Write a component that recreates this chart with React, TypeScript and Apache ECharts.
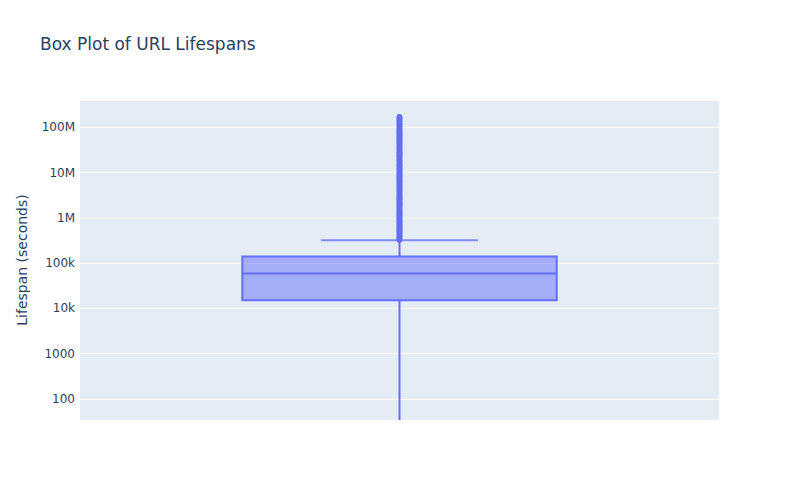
import React, { useEffect, useRef } from "react";
import * as echarts from "echarts";

const categories = ["URL lifespan"];
// [lower whisker, Q1, median, Q3, upper whisker] in seconds
const boxStats = [1, 15200, 58900, 140000, 322000];
const outliers = [
  325000, 350000, 380000, 410000, 450000, 485000, 520000, 560000, 600000,
  650000, 700000, 760000, 820000, 880000, 950000, 1020000, 1100000, 1200000,
  1300000, 1400000, 1500000, 1650000, 1800000, 1950000, 2100000, 2300000,
  2500000, 2700000, 2900000, 3150000, 3400000, 3700000, 4000000, 4350000,
  4700000, 5100000, 5500000, 6000000, 6500000, 7000000, 7600000, 8300000,
  9000000, 9700000, 10500000, 11500000, 12500000, 13500000, 14500000,
  15700000, 17000000, 18500000, 20000000, 22000000, 24000000, 26000000,
  28000000, 30500000, 33000000, 36000000, 39000000, 42500000, 46000000,
  50000000, 54000000, 59000000, 64000000, 69000000, 75000000, 81000000,
  88000000, 96000000, 104000000, 113000000, 122000000, 133000000, 145000000,
  157000000, 169000000,
];
const tickValues = [100, 1000, 10000, 100000, 1000000, 10000000, 100000000];
const tickLabels = ["100", "1000", "10k", "100k", "1M", "10M", "100M"];

const COLOR = "#636efa";
const FONT = "DejaVu Sans, Verdana, sans-serif";

export default function App() {
  const ref = useRef<HTMLDivElement>(null);
  useEffect(() => {
    if (!ref.current) return;
    const chart = echarts.init(ref.current, undefined, { renderer: "svg" });
    const option: any = {
      animation: false,
      backgroundColor: "#ffffff",
      title: {
        text: "Box Plot of URL Lifespans",
        left: 35,
        top: 30,
        textStyle: { fontFamily: FONT, fontSize: 17, fontWeight: "normal", color: "#2a3f5f" },
      },
      grid: {
        left: 80,
        right: 81,
        top: 100,
        bottom: 80,
        show: true,
        backgroundColor: "#e5ecf6",
        borderWidth: 0,
      },
      xAxis: {
        type: "category",
        data: categories,
        axisLine: { show: false },
        axisTick: { show: false },
        axisLabel: { show: false },
        splitLine: { show: false },
      },
      yAxis: {
        type: "log",
        logBase: 10,
        min: 34.4,
        max: 4.0e8,
        name: "Lifespan (seconds)",
        nameLocation: "middle",
        nameGap: 51,
        nameTextStyle: { fontFamily: FONT, fontSize: 14, color: "#2a3f5f" },
        axisLine: { show: false },
        axisTick: { show: false },
        axisLabel: {
          showMinLabel: false,
          showMaxLabel: false,
          margin: 5,
          fontFamily: FONT,
          fontSize: 12,
          color: "#2a3f5f",
          formatter: (v: number) => {
            for (let i = 0; i < tickValues.length; i++) {
              if (Math.abs(Math.log10(v) - Math.log10(tickValues[i])) < 1e-6) return tickLabels[i];
            }
            return "";
          },
        },
        splitLine: { show: true, lineStyle: { color: "#ffffff", width: 1 } },
      },
      series: [
        {
          type: "custom",
          clip: true,
          data: [[0, ...boxStats]],
          encode: { x: 0, y: [1, 2, 3, 4, 5] },
          renderItem: (params: any, api: any) => {
            const xv = api.value(0);
            const lo = api.coord([xv, api.value(1)]);
            const q1 = api.coord([xv, api.value(2)]);
            const med = api.coord([xv, api.value(3)]);
            const q3 = api.coord([xv, api.value(4)]);
            const hi = api.coord([xv, api.value(5)]);
            const band = api.size([1, 0])[0];
            const halfW = band * 0.246;
            const capW = halfW / 2;
            const cx = lo[0];
            const lineStyle = { stroke: COLOR, lineWidth: 2, fill: null };
            return {
              type: "group",
              children: [
                { type: "line", shape: { x1: cx, y1: q1[1], x2: cx, y2: lo[1] }, style: lineStyle },
                { type: "line", shape: { x1: cx, y1: q3[1], x2: cx, y2: hi[1] }, style: lineStyle },
                { type: "line", shape: { x1: cx - capW, y1: hi[1], x2: cx + capW, y2: hi[1] }, style: { stroke: "rgba(99,110,250,0.75)", lineWidth: 2 } },
                { type: "line", shape: { x1: cx - capW, y1: lo[1], x2: cx + capW, y2: lo[1] }, style: lineStyle },
                {
                  type: "rect",
                  shape: { x: cx - halfW, y: q3[1], width: halfW * 2, height: q1[1] - q3[1] },
                  style: { fill: "rgba(99,110,250,0.5)", stroke: COLOR, lineWidth: 2 },
                },
                { type: "line", shape: { x1: cx - halfW, y1: med[1], x2: cx + halfW, y2: med[1] }, style: lineStyle },
              ],
            };
          },
        },
        {
          type: "scatter",
          data: outliers.map((v) => [0, v]),
          symbol: "circle",
          symbolSize: 6,
          itemStyle: { color: COLOR, opacity: 1 },
          z: 3,
        },
      ],
    };
    chart.setOption(option);
    return () => chart.dispose();
  }, []);
  return (
    <div
      ref={ref}
      style={{ position: "fixed", left: 0, top: 0, width: 800, height: 500 }}
    />
  );
}
